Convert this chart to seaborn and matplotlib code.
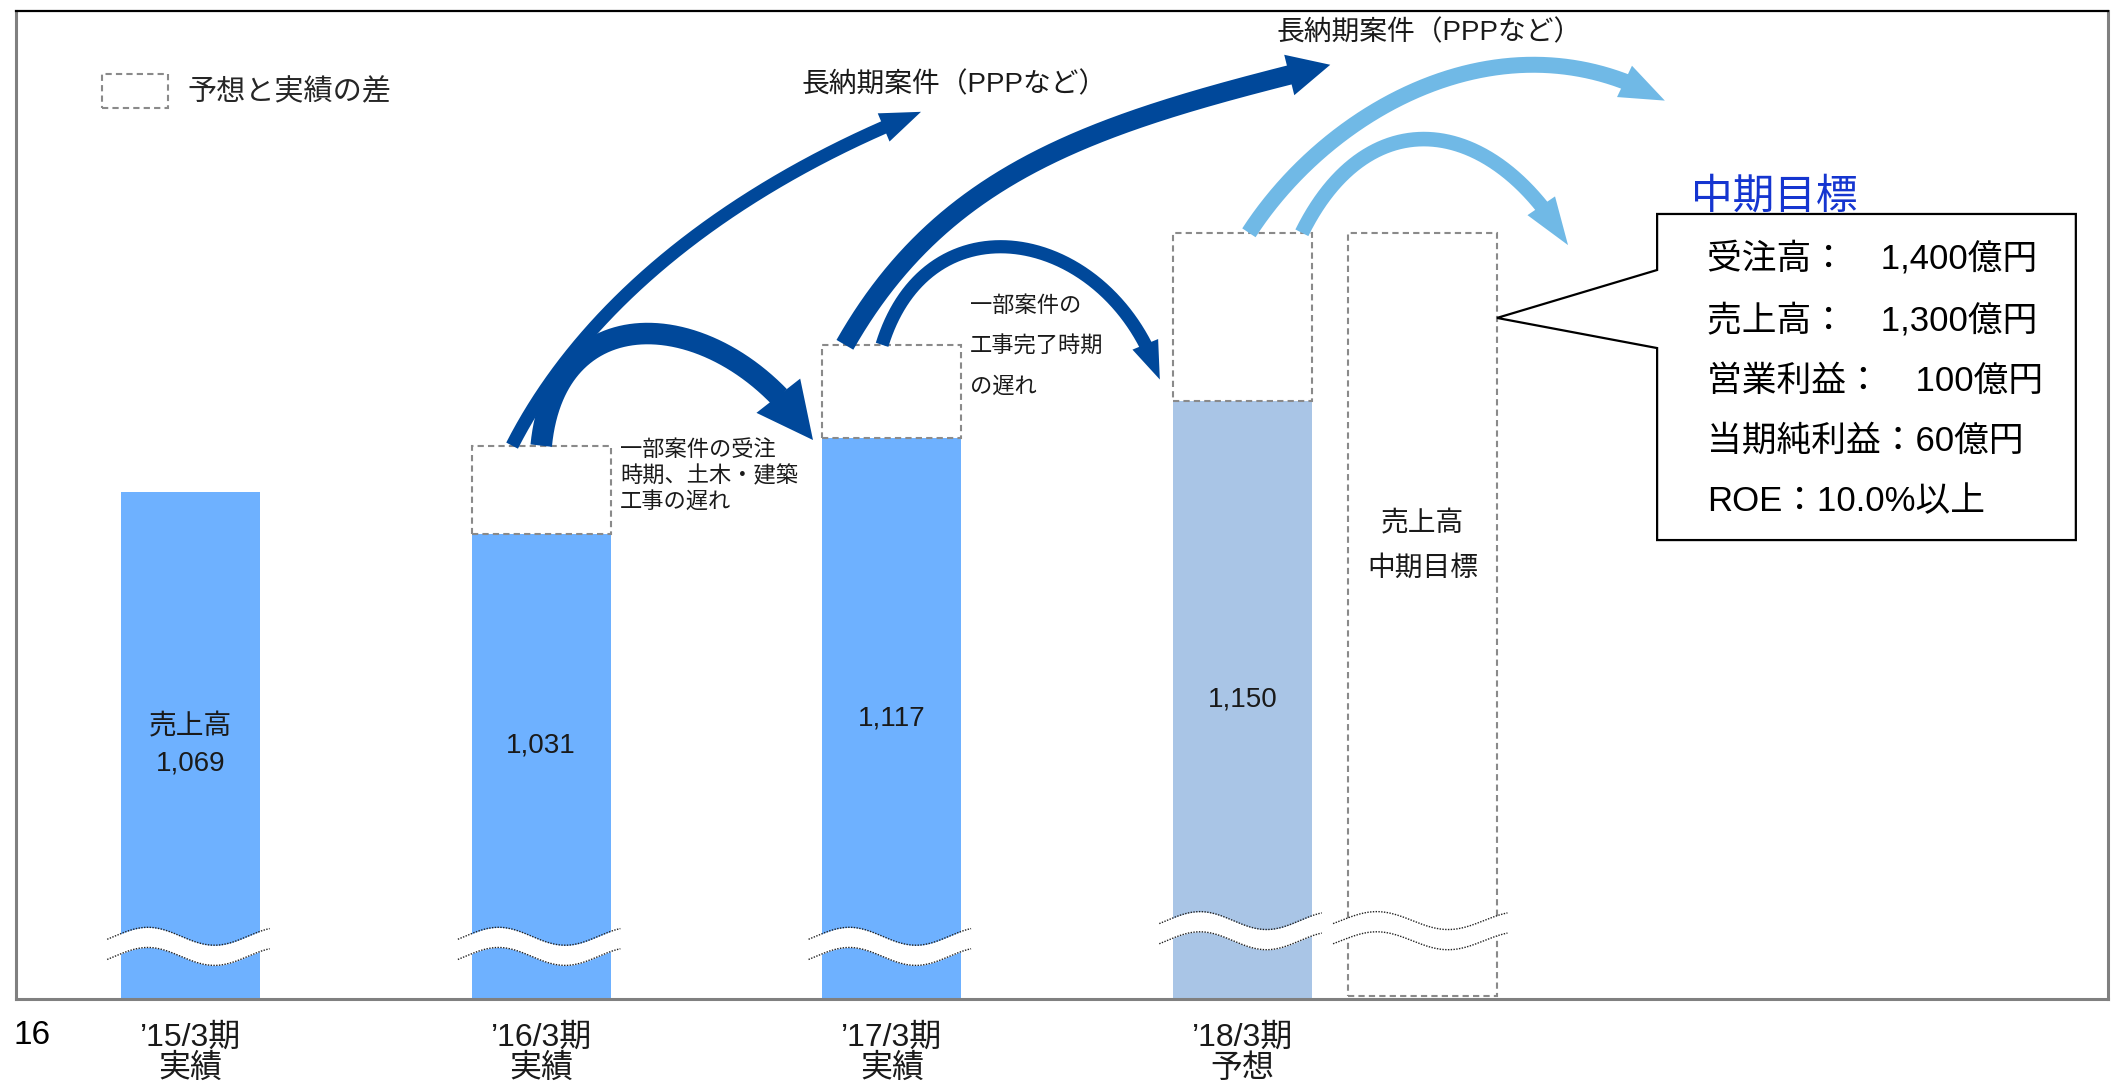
import numpy as np
import pandas as pd
import matplotlib
matplotlib.use("Agg")
import matplotlib.pyplot as plt
import seaborn as sns
from matplotlib.patches import Polygon, Patch

# ---------------- data ----------------
periods = ["’15/3期\n実績", "’16/3期\n実績", "’17/3期\n実績", "’18/3期\n予想"]
actual = [1069, 1031, 1117, 1150]          # 売上高 (実績 / 予想)
plan = [np.nan, 1110, 1200, 1300]          # 当初予想 (dashed box top)
target = 1300                              # 売上高 中期目標
bar_colors = ["#6EB1FF", "#6EB1FF", "#6EB1FF", "#A9C5E6"]
value_labels = ["売上高\n1,069", "1,031", "1,117", "1,150"]
target_label = "売上高\n中期目標"
legend_label = "予想と実績の差"
goal_title = "中期目標"
goal_lines = ["受注高：　1,400億円", "売上高：　1,300億円", "営業利益：　100億円",
              "当期純利益：60億円", "ROE：10.0%以上"]
note_a = "一部案件の受注\n時期、土木・建築\n工事の遅れ"
note_b = "一部案件の\n工事完了時期\nの遅れ"
note_ppp = "長納期案件（PPPなど）"
page_no = "16"

# ---------------- style ----------------
sns.set_style("white")
FONT = ["Liberation Sans", "Noto Sans CJK JP", "DejaVu Sans"]
plt.rcParams["font.family"] = FONT
GRAY = "#8A8A8A"
DARK = "#00489A"
LIGHT = "#70B9E6"
DASH = (0, (3, 2))

fig = plt.figure(figsize=(21.11, 10.90), dpi=100)
ax = fig.add_axes([16 / 2111, 91 / 1090, 2092 / 2111, 988 / 1090])

BW = 0.396
Y0 = 616
df = pd.DataFrame({"period": periods, "actual": actual})
sns.barplot(data=df, x="period", y="actual", hue="period", palette=bar_colors,
            width=BW, saturation=1, legend=False, errorbar=None, ax=ax,
            linewidth=0, zorder=2)
ax.set_xlim(-0.4976, 5.4677)
ax.set_ylim(Y0, 1498)
xs = np.arange(len(periods))

# dashed forecast-gap boxes
for i in range(len(xs)):
    if not np.isnan(plan[i]):
        ax.bar(xs[i], plan[i] - actual[i], bottom=actual[i], width=BW,
               facecolor="white", edgecolor=GRAY, linestyle=DASH,
               linewidth=1.5, zorder=3)

# target box
XT, WT = 3.513, 0.425
ax.bar(XT, target - (Y0 + 3), bottom=Y0 + 3, width=WT, facecolor="white",
       edgecolor=GRAY, linestyle=DASH, linewidth=1.5, zorder=3)

# value labels
for i in range(len(xs)):
    ax.text(xs[i], (Y0 + max(actual[i], actual[0])) / 2, value_labels[i],
            ha="center", va="center", fontsize=20, linespacing=1.5,
            color="#1a1a1a", zorder=7)
ax.text(XT, 1020, target_label, ha="center", va="center", fontsize=20,
        linespacing=1.95, color="#1a1a1a", zorder=7)


# ---------------- curved arrows ----------------
def bez(p0, c1, c2, p3, t):
    t = t[:, None]
    return ((1 - t) ** 3) * p0 + 3 * t * (1 - t) ** 2 * c1 + \
        3 * t ** 2 * (1 - t) * c2 + t ** 3 * p3


def curved_arrow(p0, c1, c2, p3, color, shaft, head_w, head_l):
    T = ax.transData
    P = [np.array(T.transform(p), dtype=float) for p in (p0, c1, c2, p3)]
    t = np.linspace(0, 1, 600)
    pts = bez(*P, t)
    k = fig.dpi / 72.0
    L = head_l * k
    d = np.hypot(*(pts - P[3]).T)
    idx = np.where(d >= L)[0][-1]
    base = pts[idx]
    u = P[3] - base
    u /= np.linalg.norm(u)
    n = np.array([-u[1], u[0]])
    hw = head_w * k / 2
    tri = np.array([P[3], base + n * hw, base - n * hw])
    inv = T.inverted()
    sp = inv.transform(pts[: idx + 3])
    ax.plot(sp[:, 0], sp[:, 1], color=color, lw=shaft, solid_capstyle="butt",
            zorder=4)
    ax.add_patch(Polygon(inv.transform(tri), closed=True, facecolor=color,
                         edgecolor="none", zorder=4))


# '16 -> long lead projects
curved_arrow((xs[1] - 0.083, plan[1]), (1.153, 1255), (1.632, 1352),
             (2.083, 1408), DARK, 9.5, 22, 29)
# '16 -> '17 (delay)
curved_arrow((xs[1], plan[1]), (1.044, 1252), (1.541, 1233),
             (xs[2] - 0.225, actual[2] - 2), DARK, 15.5, 40, 40)
# '17 -> long lead projects
curved_arrow((xs[2] - 0.134, plan[2]), (2.151, 1357), (2.588, 1399),
             (3.25, 1450), DARK, 14, 30, 30)
# '17 -> '18 (delay)
curved_arrow((xs[2] - 0.028, plan[2]), (2.107, 1337), (2.629, 1303),
             (2.764, 1169), DARK, 9.5, 20, 27)
# '18 -> beyond
curved_arrow((xs[3] + 0.018, plan[3]), (3.254, 1414), (3.758, 1499),
             (4.204, 1418), LIGHT, 11.5, 25, 32)
# '18 -> target
curved_arrow((xs[3] + 0.169, plan[3]), (3.360, 1421), (3.715, 1405),
             (3.928, 1289), LIGHT, 10.5, 24, 34)


# ---------------- axis-break marks ----------------
def break_mark(xc, w, yc, A=8.0, H=18.0):
    u = np.linspace(0, 1, 300)
    xx = xc - 0.6 * w + u * 1.17 * w
    up = yc + H / 2 + A * np.cos(2 * np.pi * (u - 0.25) / 0.82)
    lo = up - H
    ax.fill_between(xx, lo, up, color="white", linewidth=0, zorder=5)
    for yy in (up, lo):
        ax.plot(xx, yy, color="#222222", lw=1.0, ls=(0, (1, 1)), zorder=6)


for i in range(len(xs)):
    break_mark(xs[i], BW, 663 if i < 3 else 677)
break_mark(XT, WT, 677)

# ---------------- annotations ----------------
ax.text(1.2247, 1082, note_a, ha="left", va="center", fontsize=16,
        linespacing=1.32, color="#1a1a1a", zorder=7)
ax.text(2.223, 1198, note_b, ha="left", va="center", fontsize=16,
        linespacing=2.18, color="#1a1a1a", zorder=7)
ax.text(2.177, 1432, note_ppp, ha="center", va="center", fontsize=20,
        color="#1a1a1a", zorder=7)
ax.text(3.532, 1478, note_ppp, ha="center", va="center", fontsize=20,
        color="#1a1a1a", zorder=7)

# callout box with goals
tip = (XT + WT / 2, 1224)
bx0, bx1, by0, by1 = 4.182, 5.376, 1025.7, 1316.8
callout = Polygon([(bx0, by1), (bx1, by1), (bx1, by0), (bx0, by0),
                   (bx0, 1197.1), tip, (bx0, 1266.8)], closed=True,
                  facecolor="white", edgecolor="black", linewidth=1.6,
                  joinstyle="miter", zorder=3)
ax.add_patch(callout)
ax.text(4.324, 1168.6, "\n".join(goal_lines), ha="left", va="center",
        fontsize=25, linespacing=2.05, color="black", zorder=7)
ax.text(4.517, 1331, goal_title, ha="center", va="center", fontsize=30,
        color="#1535D0", zorder=7)

# legend
handle = Patch(facecolor="white", edgecolor=GRAY, linestyle=DASH,
               linewidth=1.5)
ax.legend([handle], [legend_label], loc="center left",
          bbox_to_anchor=(0.0411, 0.919), frameon=False,
          prop={"family": FONT, "size": 21}, handlelength=2.26,
          handleheight=1.45, handletextpad=0.68, borderpad=0,
          borderaxespad=0)

# axes cosmetics
ax.set_xticks(xs)
ax.set_xticklabels(periods, fontsize=23, color="#1a1a1a")
for lab in ax.get_xticklabels():
    lab.set_linespacing(1.05)
ax.tick_params(axis="x", length=0, pad=17)
ax.set_yticks([])
ax.set_xlabel("")
ax.set_ylabel("")
for s in ["left", "bottom", "right"]:
    ax.spines[s].set_color("#808080")
    ax.spines[s].set_linewidth(2.2)
ax.spines["top"].set_color("black")
ax.spines["top"].set_linewidth(1.6)

fig.text(14 / 2111, 1 - 1035 / 1090, page_no, ha="left", va="center",
         fontsize=24, color="black")

fig.savefig("out.png", dpi=100, facecolor="white")
